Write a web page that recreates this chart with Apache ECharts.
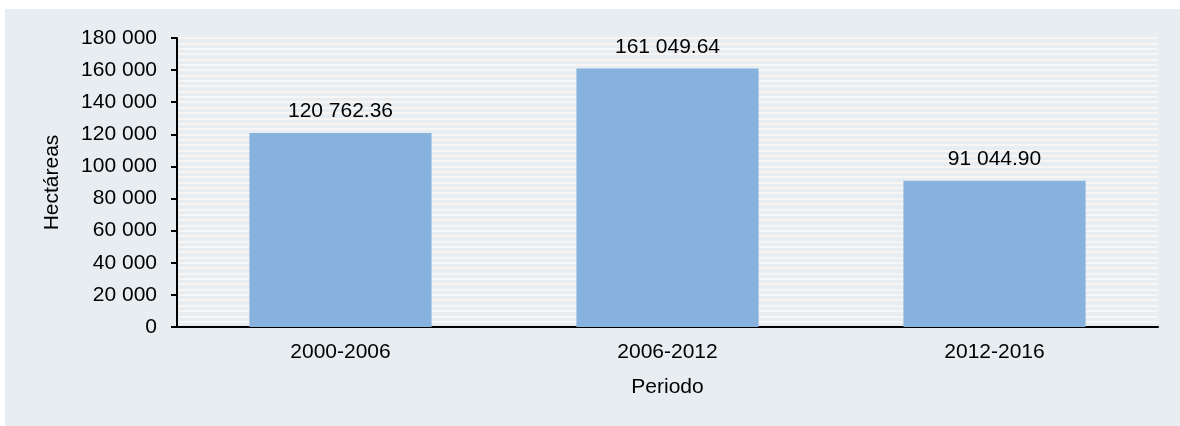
<!DOCTYPE html>
<html>
<head>
<meta charset="utf-8">
<script src="https://cdn.jsdelivr.net/npm/echarts@6/dist/echarts.min.js"></script>
<style>
  html, body { margin: 0; padding: 0; background: #ffffff; }
  #chart { position: absolute; left: 5px; top: 9px; width: 1175px; height: 417px; background: #e8edf2; }
</style>
</head>
<body>
<div id="chart"></div>
<script>
// Superficie por periodo (hectáreas)
const periodos = ['2000-2006', '2006-2012', '2012-2016'];
const hectareas = [120762.36, 161049.64, 91044.90];

// Y-axis range and step
const yMin = 0;
const yMax = 180000;
const yStep = 20000;

function miles(n) {
  return String(Math.round(n)).replace(/\B(?=(\d{3})+(?!\d))/g, ' ');
}
function conDecimales(n) {
  const partes = n.toFixed(2).split('.');
  return partes[0].replace(/\B(?=(\d{3})+(?!\d))/g, ' ') + '.' + partes[1];
}

const font = 'Liberation Sans, Arial, sans-serif';
const chart = echarts.init(document.getElementById('chart'));
chart.setOption({
  animation: false,
  backgroundColor: 'transparent',
  grid: { left: 172, right: 22, top: 29, bottom: 99, containLabel: false },
  xAxis: {
    type: 'category',
    data: periodos,
    name: 'Periodo',
    nameLocation: 'middle',
    nameGap: 50,
    nameTextStyle: { fontFamily: font, fontSize: 21, color: '#000' },
    axisLine: { lineStyle: { color: '#000', width: 2 } },
    axisTick: { show: false },
    axisLabel: { fontFamily: font, fontSize: 21, color: '#000', margin: 15 }
  },
  yAxis: {
    type: 'value',
    min: yMin,
    max: yMax,
    interval: yStep,
    name: 'Hectáreas',
    nameLocation: 'middle',
    nameRotate: 90,
    nameGap: 114,
    nameTextStyle: { fontFamily: font, fontSize: 21, color: '#000' },
    axisLine: { show: true, lineStyle: { color: '#000', width: 2 } },
    axisTick: { show: true, length: 6, lineStyle: { color: '#000', width: 2 } },
    axisLabel: { fontFamily: font, fontSize: 21, color: '#000', margin: 20, formatter: v => miles(v) },
    splitLine: { show: true, lineStyle: { color: '#f8f6f4', width: 2 } },
    minorTick: { show: false, splitNumber: 6 },
    minorSplitLine: { show: true, lineStyle: { color: '#f8f6f4', width: 2 } }
  },
  series: [{
    type: 'bar',
    data: hectareas,
    barWidth: '55.7%',
    itemStyle: { color: '#86b2dd' },
    label: {
      show: true,
      position: 'top',
      distance: 11,
      fontFamily: font,
      fontSize: 21,
      color: '#000',
      formatter: p => conDecimales(p.value)
    }
  }]
});
</script>
</body>
</html>
